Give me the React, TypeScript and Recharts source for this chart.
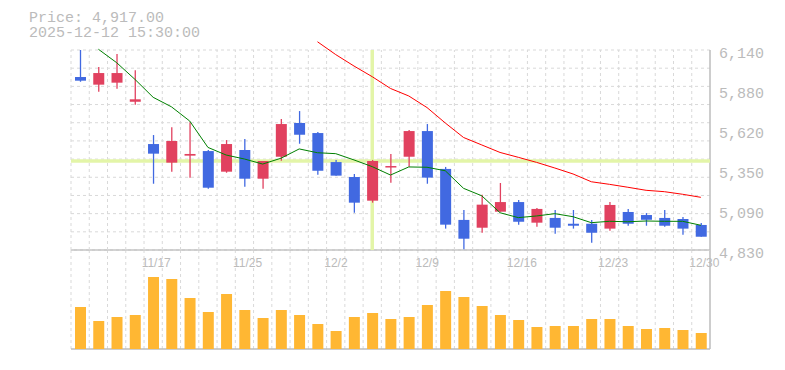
import React from 'react';
import { ComposedChart, Bar, Line, XAxis, YAxis, ReferenceLine } from 'recharts';

// ---------- data ----------
const dates = ['11/11','11/12','11/13','11/14','11/17','11/18','11/19','11/20','11/21','11/25','11/26','11/27','11/28','12/1','12/2','12/3','12/4','12/5','12/8','12/9','12/10','12/11','12/12','12/15','12/16','12/17','12/18','12/19','12/22','12/23','12/24','12/25','12/26','12/29','12/30'];
const opens = [5963,5913,5926,5801,5524,5402,5448,5478,5343,5485,5297,5441,5662,5596,5406,5308,5153,5374,5441,5609,5361,5027,4976,5081,5144,5009,5040,5002,5002,4970,5079,5059,5040,5033,4994];
const highs = [6140,6029,6114,6007,5583,5634,5666,5485,5550,5557,5413,5688,5740,5603,5420,5328,5420,5459,5616,5655,5374,5092,5192,5269,5157,5105,5092,5092,5027,5144,5099,5072,5092,5046,5007];
const lows = [5932,5867,5887,5782,5264,5343,5304,5232,5336,5245,5232,5415,5526,5323,5317,5074,5140,5271,5376,5264,4970,4835,4943,5081,4996,4983,4937,4970,4878,4956,4989,4989,4983,4930,4917];
const closes = [5939,5989,5989,5817,5461,5544,5459,5238,5524,5297,5413,5655,5585,5349,5317,5140,5413,5380,5609,5304,4996,4904,5127,5144,5015,5099,4976,4989,4943,5125,5002,5028,4989,4970,4917];
const ma5 = [null,6145,6057,5948,5830,5768,5675,5502,5452,5426,5393,5431,5492,5467,5461,5420,5376,5321,5374,5372,5349,5234,5185,5074,5042,5053,5068,5048,5009,5018,5015,5020,5018,5018,4992];
const ma25 = [null,null,null,null,null,null,null,null,null,null,null,null,null,6194,6110,6035,5965,5888,5839,5763,5662,5567,5518,5469,5437,5404,5367,5328,5277,5260,5241,5221,5212,5195,5175];
const volumes = [42000,28000,32000,34000,72000,70000,51000,37000,55000,39000,31000,39000,34000,25000,18000,32000,36000,30000,32000,44000,58000,52000,43000,34000,29000,22000,23000,23000,30000,30000,23000,20000,21000,19000,16000];

const yTickValues = [4830, 5092, 5354, 5616, 5878, 6140];
const yTickLabels = ['4,830', '5,090', '5,350', '5,620', '5,880', '6,140'];
const xTickLabels = ['11/17', '11/25', '12/2', '12/9', '12/16', '12/23', '12/30'];

const TITLE_PRICE = 'Price: 4,917.00';
const TITLE_TIME = '2025-12-12 15:30:00';
const CROSS_INDEX = 16;

// ---------- style ----------
const BLUE = '#4169e1';
const RED = '#e1415f';
const GRID = '#d9d9d9';
const AXIS = '#bdbdbd';
const TEXT = '#bbbbbb';
const CROSS = '#e3f5a8';
const VOL = '#ffb733';

const Y_MIN = 4830;
const Y_MAX = 6140;
const Y_TOP = Y_MAX + (Y_MAX - Y_MIN) * 12 / 200; // head room above the top gridline
const VOL_MAX = 99000;

const rows = dates.map((d, i) => ({
  i,
  date: d,
  open: opens[i],
  high: highs[i],
  low: lows[i],
  close: closes[i],
  ma5: ma5[i],
  ma25: ma25[i],
  vol: volumes[i],
}));

const vGrid = dates.map((_, i) => i - 0.5);
const hGrid = Array.from({ length: 12 }, (_, k) => Y_MIN + (k * (Y_MAX - Y_MIN)) / 11);
const xTicks = xTickLabels.map((l) => dates.indexOf(l));

const Candle = (props: any) => {
  const { x, y, width, height, payload } = props;
  if (x == null || y == null || !payload) return null;
  const cx = x + width / 2;
  const top = Math.min(y, y + height);
  const h = Math.abs(height);
  const { open, close, high, low } = payload;
  const ppu = high !== low ? h / (high - low) : 0;
  const yOf = (v: number) => top + (high - v) * ppu;
  const color = close >= open ? RED : BLUE;
  const bTop = yOf(Math.max(open, close));
  const bBot = yOf(Math.min(open, close));
  const bh = Math.max(bBot - bTop, 1.5);
  return (
    <g>
      <line x1={cx} x2={cx} y1={top} y2={top + h} stroke={color} strokeWidth={1.3} />
      <rect x={cx - 5.5} y={bTop} width={11} height={bh} fill={color} />
    </g>
  );
};

const YTick = (props: any) => {
  const { x, y, payload } = props;
  const idx = yTickValues.indexOf(payload.value);
  return (
    <text x={x} y={y + 8} fill={TEXT} fontFamily="'Liberation Mono', monospace" fontSize={15} textAnchor="start">
      {yTickLabels[idx]}
    </text>
  );
};

const XTick = (props: any) => {
  const { x, y, payload } = props;
  return (
    <text x={x - 11.5} y={y + 16.5} fill={TEXT} fontFamily="'Liberation Sans', Arial, sans-serif" fontSize={12} textAnchor="start">
      {dates[payload.value]}
    </text>
  );
};

export default function App() {
  return (
    <div style={{ position: 'absolute', left: 0, top: 0, width: 785, height: 370, background: '#fff' }}>
      <div
        style={{
          position: 'absolute',
          left: 29,
          top: 11,
          fontFamily: "'Liberation Mono', monospace",
          fontSize: 15,
          lineHeight: '15px',
          color: TEXT,
          whiteSpace: 'pre',
        }}
      >
        <div>{TITLE_PRICE}</div>
        <div>{TITLE_TIME}</div>
      </div>

      <div style={{ position: 'absolute', left: 0, top: 220 }}>
        <ComposedChart width={785} height={132} data={rows} margin={{ top: 10, right: 75, bottom: 3, left: 71 }}>
          <XAxis
            type="number"
            dataKey="i"
            domain={[-0.5, 34.5]}
            orientation="top"
            height={20}
            ticks={xTicks}
            interval={0}
            axisLine={false}
            tickLine={false}
            tickSize={0}
            tickMargin={0}
            tick={<XTick />}
          />
          <YAxis type="number" domain={[0, VOL_MAX]} hide />
          {vGrid.map((v) => (
            <ReferenceLine key={'vv' + v} x={v} stroke={GRID} strokeDasharray="3 3" zIndex={-100} />
          ))}
          <ReferenceLine y={VOL_MAX} stroke={AXIS} strokeWidth={1.5} zIndex={-90} />
          <ReferenceLine y={0} stroke={AXIS} strokeWidth={1.5} zIndex={-90} />
          <ReferenceLine x={34.5} stroke={AXIS} strokeWidth={1.5} zIndex={-90} />
          <Bar dataKey="vol" barSize={11} fill={VOL} isAnimationActive={false} />
        </ComposedChart>
      </div>

      <div style={{ position: 'absolute', left: 0, top: 0 }}>
        <ComposedChart width={785} height={264} data={rows} margin={{ top: 38, right: 0, bottom: 14, left: 71 }}>
          <XAxis type="number" dataKey="i" domain={[-0.5, 34.5]} hide />
          <YAxis
            orientation="right"
            type="number"
            domain={[Y_MIN, Y_TOP]}
            ticks={yTickValues}
            interval={0}
            width={75}
            axisLine={false}
            tickLine={false}
            tickMargin={3}
            tick={<YTick />}
          />
          {hGrid.map((v) => (
            <ReferenceLine key={'h' + v} y={v} stroke={GRID} strokeDasharray="3 3" zIndex={-100} />
          ))}
          {vGrid.map((v) => (
            <ReferenceLine
              key={'v' + v}
              segment={[{ x: v, y: Y_MIN }, { x: v, y: Y_MAX }]}
              stroke={GRID}
              strokeDasharray="3 3"
              zIndex={-100}
            />
          ))}
          <ReferenceLine
            segment={[{ x: 34.5, y: Y_MIN }, { x: 34.5, y: Y_MAX }]}
            stroke={AXIS}
            strokeWidth={1.5}
            zIndex={-90}
          />
          <ReferenceLine y={closes[CROSS_INDEX]} stroke={CROSS} strokeWidth={3.5} zIndex={-80} />
          <ReferenceLine
            segment={[{ x: CROSS_INDEX, y: Y_MIN }, { x: CROSS_INDEX, y: Y_MAX }]}
            stroke={CROSS}
            strokeWidth={3.5}
            zIndex={-80}
          />
          <Bar dataKey={(r: any) => [r.low, r.high]} barSize={11} shape={<Candle />} isAnimationActive={false} />
          <Line type="linear" dataKey="ma5" stroke="#008000" strokeWidth={1} dot={false} activeDot={false} isAnimationActive={false} />
          <Line type="linear" dataKey="ma25" stroke="#ff0000" strokeWidth={1} dot={false} activeDot={false} isAnimationActive={false} />
        </ComposedChart>
      </div>
    </div>
  );
}
